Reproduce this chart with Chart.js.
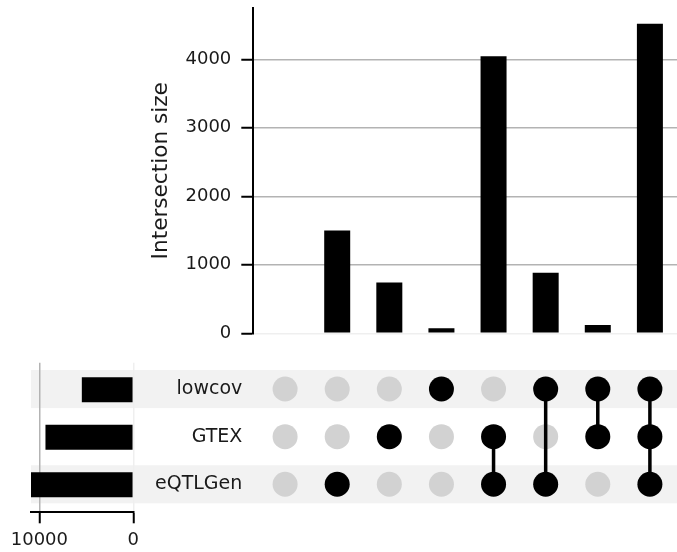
<!DOCTYPE html>
<html>
<head>
<meta charset="utf-8">
<script src="https://cdn.jsdelivr.net/npm/chart.js@4/dist/chart.umd.min.js"></script>
<style>
  html, body { margin: 0; padding: 0; background: #fff; }
  #wrap { position: relative; width: 677px; height: 552px; }
  #wrap canvas { position: absolute; left: 0; top: 0; }
</style>
</head>
<body>
<div id="wrap">
  <canvas id="matrix" width="677" height="552"></canvas>
  <canvas id="totals" width="677" height="552"></canvas>
  <canvas id="inter" width="677" height="552"></canvas>
</div>
<script>
// Sets, listed bottom row first
const setNames = ['eQTLGen', 'GTEX', 'lowcov'];
const setTotals = [10890, 9350, 5480];

// Intersection sizes, one per column
const intersectionSizes = [0, 1500, 743, 73, 4045, 884, 121, 4518];

// Column membership for each set (1 = set is part of that intersection)
const memberEQTLGen = [0, 1, 0, 0, 1, 1, 0, 1];
const memberGTEX    = [0, 0, 1, 0, 1, 0, 1, 1];
const memberLowcov  = [0, 0, 0, 1, 0, 1, 1, 1];

const intersectionTicks = [0, 1000, 2000, 3000, 4000];
const totalsTicks = [0, 10000];

const membership = [memberEQTLGen, memberGTEX, memberLowcov];
const nCols = intersectionSizes.length;

const FAMILY = "'DejaVu Sans', sans-serif";
const TICK_FONT = { family: FAMILY, size: 18 };
const SET_FONT = { family: FAMILY, size: 19 };
const TITLE_FONT = { family: FAMILY, size: 21.6 };
const TEXT = '#1a1a1a';
const GRID = '#b3b3b3';
const FAINT = '#efefef';
const SHADE = '#f2f2f2';
const OFF_DOT = '#d2d2d2';

// shared column scale
const X_MIN = -0.61, X_MAX = 7.52;
const PLOT_LEFT = 253.3;

Chart.defaults.font.family = FAMILY;
Chart.defaults.font.size = 18;
Chart.defaults.color = TEXT;
Chart.defaults.animation = false;

const noLegend = { legend: { display: false }, tooltip: { enabled: false } };
const plain = v => String(v);

// ---------- intersection size bars ----------
new Chart(document.getElementById('inter'), {
  type: 'bar',
  data: {
    datasets: [{
      data: intersectionSizes.map((v, i) => ({ x: i, y: v })),
      backgroundColor: '#000',
      borderWidth: 0,
      inflateAmount: 0,
      barThickness: 26
    }]
  },
  options: {
    responsive: false,
    devicePixelRatio: 1,
    layout: { autoPadding: false, padding: { left: 144, top: 8.3, right: 0, bottom: 552 - 333.3 } },
    plugins: noLegend,
    scales: {
      x: {
        type: 'linear', min: X_MIN, max: X_MAX, display: false, offset: false,
        grid: { offset: false },
        afterFit(s) { s.height = 0; s.paddingLeft = 0; s.paddingRight = 0; }
      },
      y: {
        type: 'linear', min: 0, max: 4745,
        afterBuildTicks(s) { s.ticks = intersectionTicks.map(v => ({ value: v })); },
        afterFit(s) { s.width = PLOT_LEFT - 144; s.paddingTop = 0; s.paddingBottom = 0; },
        ticks: { padding: 10, color: TEXT, font: TICK_FONT, callback: plain },
        grid: {
          color: c => (c.tick && c.tick.value === 0 ? FAINT : GRID),
          lineWidth: 1.5,
          tickLength: 12,
          tickColor: '#000',
          tickWidth: 2
        },
        border: { display: true, color: '#000', width: 2 },
        title: { display: true, text: 'Intersection size', color: TEXT, font: TITLE_FONT }
      }
    }
  }
});

// ---------- membership matrix ----------
const onPts = [], offPts = [];
const links = [];
for (let c = 0; c < nCols; c++) {
  const rows = [];
  for (let r = 0; r < setNames.length; r++) {
    if (membership[r][c]) { onPts.push({ x: c, y: r }); rows.push(r); }
    else offPts.push({ x: c, y: r });
  }
  if (rows.length > 1) {
    links.push({
      type: 'line',
      data: [{ x: c, y: Math.min(...rows) }, { x: c, y: Math.max(...rows) }],
      borderColor: '#000',
      borderWidth: 3.5,
      pointRadius: 0,
      showLine: true,
      order: 1
    });
  }
}

const shadeRows = {
  id: 'shadeRows',
  beforeDraw(chart) {
    const { ctx, scales: { y } } = chart;
    ctx.save();
    ctx.fillStyle = SHADE;
    for (let r = 0; r < setNames.length; r += 2) {
      const top = y.getPixelForValue(r + 0.4);
      const bot = y.getPixelForValue(r - 0.4);
      ctx.fillRect(31, top, chart.width - 31, bot - top);
    }
    ctx.restore();
  }
};

new Chart(document.getElementById('matrix'), {
  type: 'scatter',
  data: {
    datasets: [
      { data: onPts, backgroundColor: '#000', borderWidth: 0, pointRadius: 12.5, pointHoverRadius: 12.5, order: 0 },
      ...links,
      { data: offPts, backgroundColor: OFF_DOT, borderWidth: 0, pointRadius: 12.5, pointHoverRadius: 12.5, order: 2 }
    ]
  },
  options: {
    responsive: false,
    devicePixelRatio: 1,
    layout: { autoPadding: false, padding: { left: 0, top: 365.2, right: 0, bottom: 552 - 508.1 } },
    plugins: noLegend,
    scales: {
      x: {
        type: 'linear', min: X_MIN, max: X_MAX, display: false,
        afterFit(s) { s.height = 0; s.paddingLeft = 0; s.paddingRight = 0; }
      },
      y: {
        type: 'linear', min: -0.5, max: 2.5,
        afterBuildTicks(s) { s.ticks = setNames.map((_, i) => ({ value: i })); },
        afterFit(s) { s.width = PLOT_LEFT; s.paddingTop = 0; s.paddingBottom = 0; },
        ticks: { padding: 11, color: TEXT, font: SET_FONT, callback: v => setNames[v] },
        grid: { display: false, drawTicks: false, tickLength: 0 },
        border: { display: false }
      }
    }
  },
  plugins: [shadeRows]
});

// ---------- set totals ----------
new Chart(document.getElementById('totals'), {
  type: 'bar',
  data: {
    datasets: [{
      data: setTotals.map((v, i) => ({ x: v, y: i })),
      backgroundColor: '#000',
      borderWidth: 0,
      inflateAmount: 0,
      barThickness: 25
    }]
  },
  options: {
    indexAxis: 'y',
    responsive: false,
    devicePixelRatio: 1,
    layout: { autoPadding: false, padding: { left: 31, top: 362.7, right: 677 - 133.3, bottom: 0 } },
    plugins: noLegend,
    scales: {
      x: {
        type: 'linear', reverse: true, min: 0, max: Math.max(...setTotals),
        afterBuildTicks(s) { s.ticks = totalsTicks.map(v => ({ value: v })); },
        afterFit(s) { s.height = 552 - 512.3; s.paddingLeft = 0; s.paddingRight = 0; },
        ticks: { padding: 6, color: TEXT, font: TICK_FONT, maxRotation: 0, callback: plain },
        grid: {
          color: c => (c.tick && c.tick.value === 0 ? FAINT : GRID),
          lineWidth: 1.5,
          tickLength: 11,
          tickColor: '#000',
          tickWidth: 2
        },
        border: { display: true, color: '#000', width: 2 }
      },
      y: {
        type: 'linear', min: -0.58, max: 2.567, display: false, offset: false,
        grid: { offset: false },
        afterFit(s) { s.width = 0; s.paddingTop = 0; s.paddingBottom = 0; }
      }
    }
  }
});
</script>
</body>
</html>
